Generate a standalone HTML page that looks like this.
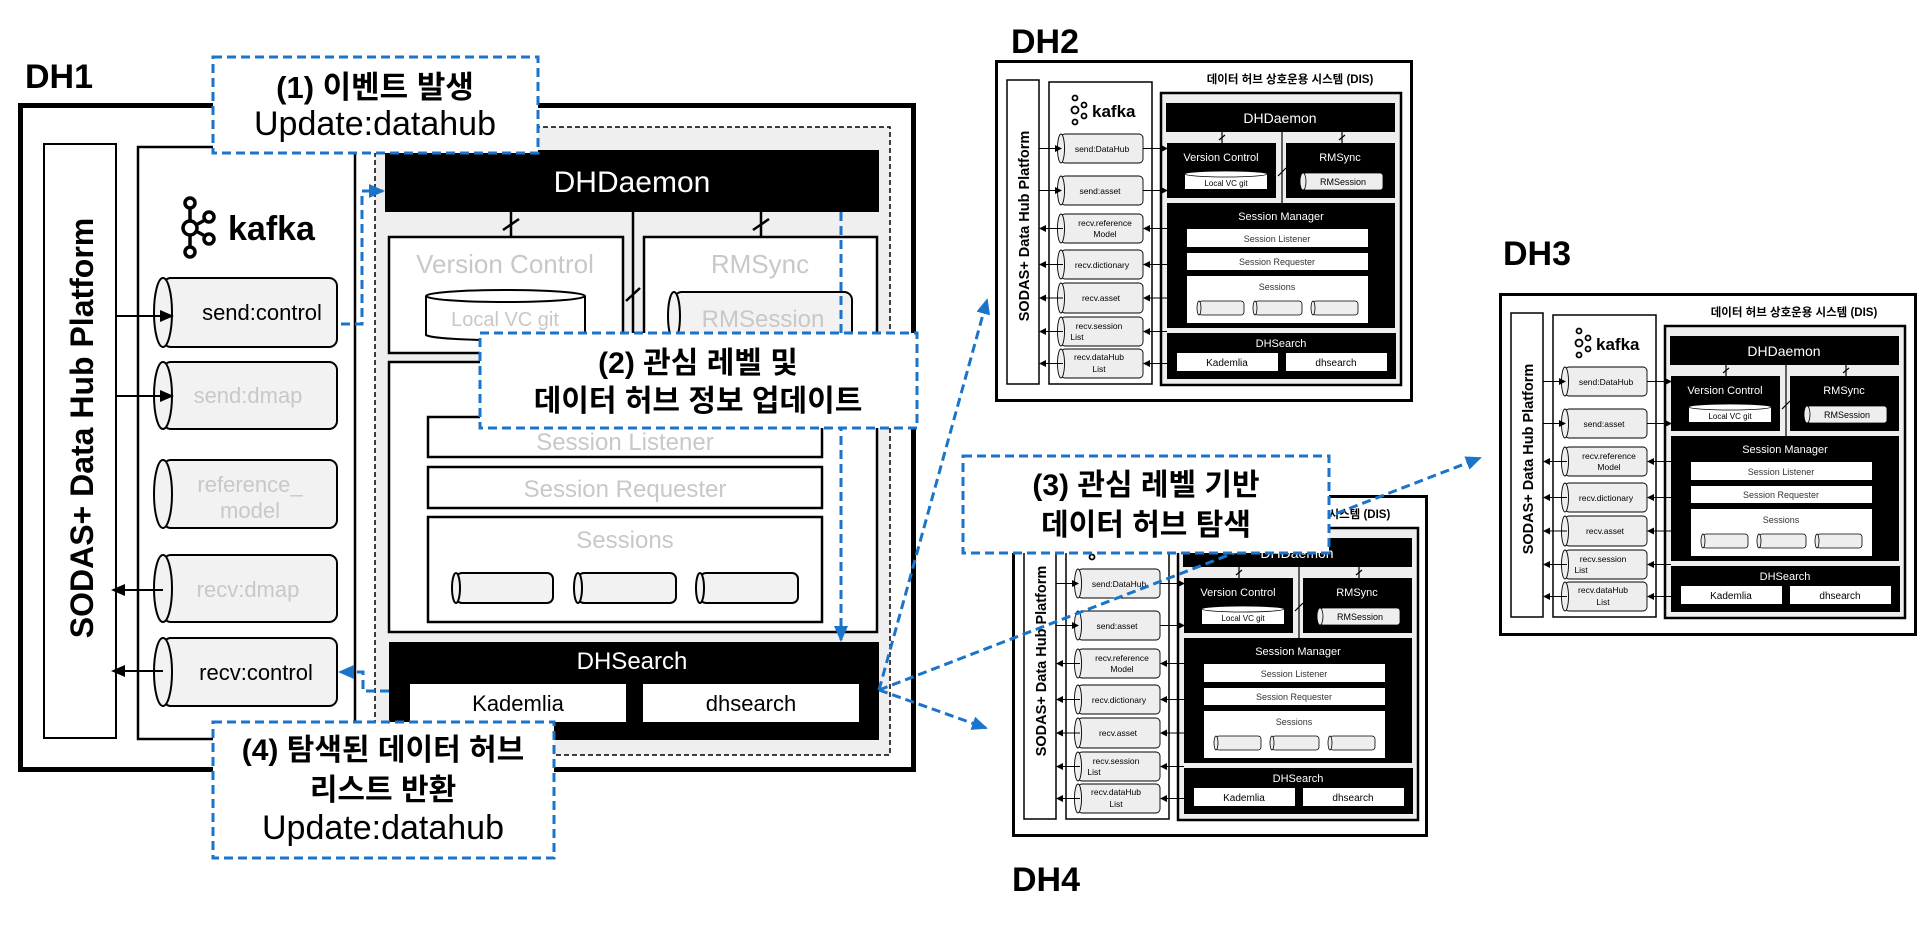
<!DOCTYPE html>
<html><head><meta charset="utf-8"><style>
html,body{margin:0;padding:0;background:#fff;}
svg{display:block;font-family:"Liberation Sans","Noto Sans CJK KR",sans-serif;}
</style></head><body>
<svg width="1918" height="927" viewBox="0 0 1918 927" xmlns="http://www.w3.org/2000/svg">
<defs>
<marker id="ak" markerWidth="7" markerHeight="7" refX="6" refY="3.5" orient="auto" markerUnits="userSpaceOnUse"><path d="M0,0 L7,3.5 L0,7z" fill="#000"/></marker>
<marker id="ab" markerWidth="14" markerHeight="12" refX="12" refY="6" orient="auto" markerUnits="userSpaceOnUse"><path d="M0,0 L14,6 L0,12z" fill="#000"/></marker>
<marker id="bl" markerWidth="16" markerHeight="14" refX="14" refY="7" orient="auto" markerUnits="userSpaceOnUse"><path d="M0,0 L16,7 L0,14z" fill="#1a74c9"/></marker>
</defs>
<rect width="1918" height="927" fill="#fff"/>

<!-- ================= DH1 ================= -->
<text x="25" y="88" font-size="34" font-weight="bold">DH1</text>
<rect x="20.5" y="105.5" width="893" height="664" fill="#fff" stroke="#000" stroke-width="5"/>
<rect x="44" y="144" width="72" height="594" fill="#fff" stroke="#000" stroke-width="2"/>
<text transform="translate(93,428) rotate(-90)" font-size="32" font-weight="bold" text-anchor="middle">SODAS+ Data Hub Platform</text>
<rect x="138" y="147" width="217" height="592" fill="#fff" stroke="#000" stroke-width="2.5"/>
<g fill="none" stroke="#000" stroke-width="3.5">
<circle cx="190" cy="203" r="5"/><circle cx="190" cy="228" r="7"/><circle cx="190" cy="252" r="5"/>
<circle cx="209" cy="217" r="5"/><circle cx="209" cy="239" r="5"/>
<path d="M190,208 V221 M190,235 V247 M196,225 L205,220 M196,231 L205,236"/>
</g>
<text x="228" y="240" font-size="34" font-weight="bold">kafka</text>
<!-- cylinders -->
<g stroke="#000" stroke-width="2" fill="#f2f2f2">
<rect x="163" y="278" width="174" height="69" rx="8"/><ellipse cx="163" cy="312.5" rx="9" ry="34.5"/>
<rect x="163" y="362" width="174" height="67" rx="8"/><ellipse cx="163" cy="395.5" rx="9" ry="33.5"/>
<rect x="163" y="460" width="174" height="68" rx="8"/><ellipse cx="163" cy="494" rx="9" ry="34"/>
<rect x="163" y="555" width="174" height="67" rx="8"/><ellipse cx="163" cy="588.5" rx="9" ry="33.5"/>
<rect x="163" y="638" width="174" height="68" rx="8"/><ellipse cx="163" cy="672" rx="9" ry="34"/>
</g>
<g font-size="22" text-anchor="middle">
<text x="262" y="320">send:control</text>
<text x="248" y="403" fill="#c8c8c8">send:dmap</text>
<text x="250" y="492" fill="#c8c8c8">reference_</text>
<text x="250" y="518" fill="#c8c8c8">model</text>
<text x="248" y="597" fill="#c8c8c8">recv:dmap</text>
<text x="256" y="680">recv:control</text>
</g>
<g stroke="#000" stroke-width="2">
<line x1="116" y1="316" x2="172" y2="316" marker-end="url(#ab)"/>
<line x1="116" y1="396" x2="172" y2="396" marker-end="url(#ab)"/>
<line x1="163" y1="590" x2="113" y2="590" marker-end="url(#ab)"/>
<line x1="163" y1="671" x2="113" y2="671" marker-end="url(#ab)"/>
</g>
<!-- DIS grey region -->
<rect x="375" y="127" width="515" height="628" fill="#efefef" stroke="#000" stroke-width="1.5" stroke-dasharray="5 3"/>
<rect x="385" y="150" width="494" height="62" fill="#000"/>
<text x="632" y="192" font-size="30" fill="#fff" text-anchor="middle">DHDaemon</text>
<g stroke="#000" stroke-width="2.5">
<line x1="511" y1="212" x2="511" y2="237"/><line x1="761" y1="212" x2="761" y2="237"/>
<line x1="633" y1="212" x2="633" y2="362"/>
<line x1="503" y1="230" x2="519" y2="219"/><line x1="753" y1="230" x2="769" y2="219"/>
<line x1="626" y1="301" x2="640" y2="288"/>
</g>
<rect x="389" y="237" width="234" height="116" fill="#fff" stroke="#000" stroke-width="2.5"/>
<text x="505" y="273" font-size="26" fill="#c8c8c8" text-anchor="middle">Version Control</text>
<path d="M426,296 V335 A80,6 0 0 0 585,335 V296" fill="#fff" stroke="#000" stroke-width="2"/>
<ellipse cx="505.5" cy="296" rx="79.5" ry="6" fill="#fff" stroke="#000" stroke-width="2"/>
<text x="505" y="326" font-size="20" fill="#c8c8c8" text-anchor="middle">Local VC git</text>
<rect x="644" y="237" width="233" height="116" fill="#fff" stroke="#000" stroke-width="2.5"/>
<text x="760" y="273" font-size="26" fill="#c8c8c8" text-anchor="middle">RMSync</text>
<rect x="674" y="292" width="178" height="48" rx="8" fill="#f2f2f2" stroke="#000" stroke-width="2"/>
<ellipse cx="674" cy="316" rx="6" ry="24" fill="#f2f2f2" stroke="#000" stroke-width="2"/>
<text x="763" y="327" font-size="24" fill="#c8c8c8" text-anchor="middle">RMSession</text>
<rect x="389" y="362" width="488" height="270" fill="#fff" stroke="#000" stroke-width="2.5"/>
<rect x="428" y="417" width="394" height="40" fill="#fff" stroke="#000" stroke-width="2.5"/>
<text x="625" y="450" font-size="24" fill="#c8c8c8" text-anchor="middle">Session Listener</text>
<rect x="428" y="467" width="394" height="41" fill="#fff" stroke="#000" stroke-width="2.5"/>
<text x="625" y="497" font-size="24" fill="#c8c8c8" text-anchor="middle">Session Requester</text>
<rect x="428" y="517" width="394" height="105" fill="#fff" stroke="#000" stroke-width="2.5"/>
<text x="625" y="548" font-size="24" fill="#c8c8c8" text-anchor="middle">Sessions</text>
<g stroke="#000" stroke-width="2" fill="#f2f2f2">
<rect x="456" y="573" width="97" height="30" rx="6"/><ellipse cx="456" cy="588" rx="4" ry="15"/>
<rect x="578" y="573" width="98" height="30" rx="6"/><ellipse cx="578" cy="588" rx="4" ry="15"/>
<rect x="700" y="573" width="98" height="30" rx="6"/><ellipse cx="700" cy="588" rx="4" ry="15"/>
</g>
<rect x="389" y="642" width="490" height="98" fill="#000"/>
<text x="632" y="669" font-size="24" fill="#fff" text-anchor="middle">DHSearch</text>
<rect x="410" y="684" width="216" height="38" fill="#fff"/>
<text x="518" y="711" font-size="22" text-anchor="middle">Kademlia</text>
<rect x="643" y="684" width="216" height="38" fill="#fff"/>
<text x="751" y="711" font-size="22" text-anchor="middle">dhsearch</text>

<!-- ================= small DH template: DH2 ================= -->
<text x="1011" y="53" font-size="34" font-weight="bold">DH2</text>
<g transform="translate(995,60)">
<rect x="1.5" y="1.5" width="415" height="339" fill="#fff" stroke="#000" stroke-width="3"/>
<text x="295" y="23" font-size="11.5" font-weight="bold" text-anchor="middle">데이터 허브 상호운용 시스템 (DIS)</text>
<rect x="12" y="20" width="32" height="304" fill="#fff" stroke="#000" stroke-width="1.5"/>
<text transform="translate(34,166) rotate(-90)" font-size="14.5" font-weight="bold" text-anchor="middle">SODAS+ Data Hub Platform</text>
<rect x="54" y="22" width="103" height="302" fill="#fff" stroke="#000" stroke-width="1.5"/>
<g fill="none" stroke="#000" stroke-width="1.8"><circle cx="80" cy="38" r="2.5"/><circle cx="80" cy="50" r="3.5"/><circle cx="80" cy="62" r="2.5"/><circle cx="89" cy="45" r="2.5"/><circle cx="89" cy="56" r="2.5"/></g>
<text x="97" y="57" font-size="17" font-weight="bold">kafka</text>
<rect x="166" y="33" width="240" height="292" fill="#eee" stroke="#000" stroke-width="2.5"/>
<rect x="171" y="43" width="229" height="29" fill="#000"/>
<text x="285" y="63" font-size="14" fill="#fff" text-anchor="middle">DHDaemon</text>
<g stroke="#000" stroke-width="1.2"><line x1="227" y1="72" x2="227" y2="83"/><line x1="347" y1="72" x2="347" y2="83"/><line x1="287" y1="72" x2="287" y2="143"/><line x1="224" y1="80" x2="230" y2="75"/><line x1="344" y1="80" x2="350" y2="75"/><line x1="283" y1="116" x2="291" y2="108"/></g>
<rect x="172" y="83" width="109" height="55" fill="#000"/>
<text x="226" y="101" font-size="11" fill="#fff" text-anchor="middle">Version Control</text>
<rect x="190" y="114" width="82" height="15" fill="#fff"/><ellipse cx="231" cy="114" rx="41" ry="3" fill="#fff" stroke="#000" stroke-width=".8"/>
<text x="231" y="126" font-size="8" text-anchor="middle">Local VC git</text>
<rect x="291" y="83" width="109" height="55" fill="#000"/>
<text x="345" y="101" font-size="11" fill="#fff" text-anchor="middle">RMSync</text>
<rect x="308" y="113" width="80" height="17" rx="3" fill="#eee" stroke="#000" stroke-width=".8"/><ellipse cx="308" cy="121.5" rx="3" ry="8.5" fill="#eee" stroke="#000" stroke-width=".8"/>
<text x="348" y="125" font-size="9" text-anchor="middle">RMSession</text>
<rect x="172" y="143" width="228" height="125" fill="#000"/>
<text x="286" y="160" font-size="11" fill="#fff" text-anchor="middle">Session Manager</text>
<rect x="192" y="169" width="181" height="18" fill="#fff"/><text x="282" y="182" font-size="9" fill="#333" text-anchor="middle">Session Listener</text>
<rect x="192" y="193" width="181" height="17" fill="#fff"/><text x="282" y="205" font-size="9" fill="#333" text-anchor="middle">Session Requester</text>
<rect x="192" y="216" width="181" height="47" fill="#fff"/><text x="282" y="230" font-size="9" fill="#333" text-anchor="middle">Sessions</text>
<g fill="#eee" stroke="#000" stroke-width=".8"><rect x="204" y="241" width="45" height="14" rx="3"/><ellipse cx="204" cy="248" rx="2" ry="7"/><rect x="260" y="241" width="47" height="14" rx="3"/><ellipse cx="260" cy="248" rx="2" ry="7"/><rect x="318" y="241" width="45" height="14" rx="3"/><ellipse cx="318" cy="248" rx="2" ry="7"/></g>
<rect x="172" y="273" width="229" height="46" fill="#000"/>
<text x="286" y="287" font-size="11" fill="#fff" text-anchor="middle">DHSearch</text>
<rect x="182" y="293" width="101" height="18" fill="#fff"/><text x="232" y="306" font-size="10" text-anchor="middle">Kademlia</text>
<rect x="291" y="293" width="101" height="18" fill="#fff"/><text x="341" y="306" font-size="10" text-anchor="middle">dhsearch</text>
<g fill="#eee" stroke="#000" stroke-width=".9">
<rect x="66" y="74" width="82" height="29" rx="4"/><ellipse cx="66" cy="88.5" rx="3.5" ry="14.5"/>
<rect x="66" y="116" width="82" height="29" rx="4"/><ellipse cx="66" cy="130.5" rx="3.5" ry="14.5"/>
<rect x="66" y="154" width="82" height="29" rx="4"/><ellipse cx="66" cy="168.5" rx="3.5" ry="14.5"/>
<rect x="66" y="190" width="82" height="29" rx="4"/><ellipse cx="66" cy="204.5" rx="3.5" ry="14.5"/>
<rect x="66" y="223" width="82" height="30" rx="4"/><ellipse cx="66" cy="238" rx="3.5" ry="15"/>
<rect x="66" y="257" width="82" height="29" rx="4"/><ellipse cx="66" cy="271.5" rx="3.5" ry="14.5"/>
<rect x="66" y="289" width="82" height="29" rx="4"/><ellipse cx="66" cy="303.5" rx="3.5" ry="14.5"/>
</g>
<g font-size="8.5" text-anchor="middle">
<text x="107" y="92">send:DataHub</text><text x="105" y="134">send:asset</text>
<text x="110" y="166">recv.reference</text><text x="110" y="177">Model</text>
<text x="107" y="208">recv.dictionary</text><text x="106" y="241">recv.asset</text>
<text x="104" y="269">recv.session</text><text x="82" y="280">List</text>
<text x="104" y="300">recv.dataHub</text><text x="104" y="312">List</text>
</g>
<g stroke="#000" stroke-width="1">
<line x1="44" y1="88.5" x2="66" y2="88.5" marker-end="url(#ak)"/><line x1="148" y1="88.5" x2="172" y2="88.5" marker-end="url(#ak)"/>
<line x1="44" y1="130.5" x2="66" y2="130.5" marker-end="url(#ak)"/><line x1="148" y1="130.5" x2="172" y2="130.5" marker-end="url(#ak)"/>
<line x1="172" y1="168.5" x2="149" y2="168.5" marker-end="url(#ak)"/><line x1="68" y1="168.5" x2="45" y2="168.5" marker-end="url(#ak)"/>
<line x1="172" y1="204.5" x2="149" y2="204.5" marker-end="url(#ak)"/><line x1="68" y1="204.5" x2="45" y2="204.5" marker-end="url(#ak)"/>
<line x1="172" y1="238" x2="149" y2="238" marker-end="url(#ak)"/><line x1="68" y1="238" x2="45" y2="238" marker-end="url(#ak)"/>
<line x1="172" y1="271.5" x2="149" y2="271.5" marker-end="url(#ak)"/><line x1="68" y1="271.5" x2="45" y2="271.5" marker-end="url(#ak)"/>
<line x1="172" y1="303.5" x2="149" y2="303.5" marker-end="url(#ak)"/><line x1="68" y1="303.5" x2="45" y2="303.5" marker-end="url(#ak)"/>
</g>
</g>

<!-- ================= DH3 ================= -->
<text x="1503" y="265" font-size="34" font-weight="bold">DH3</text>
<g transform="translate(1499,293)">
<rect x="1.5" y="1.5" width="415" height="340" fill="#fff" stroke="#000" stroke-width="3"/>
<text x="295" y="23" font-size="11.5" font-weight="bold" text-anchor="middle">데이터 허브 상호운용 시스템 (DIS)</text>
<rect x="12" y="20" width="32" height="304" fill="#fff" stroke="#000" stroke-width="1.5"/>
<text transform="translate(34,166) rotate(-90)" font-size="14.5" font-weight="bold" text-anchor="middle">SODAS+ Data Hub Platform</text>
<rect x="54" y="22" width="103" height="302" fill="#fff" stroke="#000" stroke-width="1.5"/>
<g fill="none" stroke="#000" stroke-width="1.8"><circle cx="80" cy="38" r="2.5"/><circle cx="80" cy="50" r="3.5"/><circle cx="80" cy="62" r="2.5"/><circle cx="89" cy="45" r="2.5"/><circle cx="89" cy="56" r="2.5"/></g>
<text x="97" y="57" font-size="17" font-weight="bold">kafka</text>
<rect x="166" y="33" width="240" height="292" fill="#eee" stroke="#000" stroke-width="2.5"/>
<rect x="171" y="43" width="229" height="29" fill="#000"/>
<text x="285" y="63" font-size="14" fill="#fff" text-anchor="middle">DHDaemon</text>
<g stroke="#000" stroke-width="1.2"><line x1="227" y1="72" x2="227" y2="83"/><line x1="347" y1="72" x2="347" y2="83"/><line x1="287" y1="72" x2="287" y2="143"/><line x1="224" y1="80" x2="230" y2="75"/><line x1="344" y1="80" x2="350" y2="75"/><line x1="283" y1="116" x2="291" y2="108"/></g>
<rect x="172" y="83" width="109" height="55" fill="#000"/>
<text x="226" y="101" font-size="11" fill="#fff" text-anchor="middle">Version Control</text>
<rect x="190" y="114" width="82" height="15" fill="#fff"/><ellipse cx="231" cy="114" rx="41" ry="3" fill="#fff" stroke="#000" stroke-width=".8"/>
<text x="231" y="126" font-size="8" text-anchor="middle">Local VC git</text>
<rect x="291" y="83" width="109" height="55" fill="#000"/>
<text x="345" y="101" font-size="11" fill="#fff" text-anchor="middle">RMSync</text>
<rect x="308" y="113" width="80" height="17" rx="3" fill="#eee" stroke="#000" stroke-width=".8"/><ellipse cx="308" cy="121.5" rx="3" ry="8.5" fill="#eee" stroke="#000" stroke-width=".8"/>
<text x="348" y="125" font-size="9" text-anchor="middle">RMSession</text>
<rect x="172" y="143" width="228" height="125" fill="#000"/>
<text x="286" y="160" font-size="11" fill="#fff" text-anchor="middle">Session Manager</text>
<rect x="192" y="169" width="181" height="18" fill="#fff"/><text x="282" y="182" font-size="9" fill="#333" text-anchor="middle">Session Listener</text>
<rect x="192" y="193" width="181" height="17" fill="#fff"/><text x="282" y="205" font-size="9" fill="#333" text-anchor="middle">Session Requester</text>
<rect x="192" y="216" width="181" height="47" fill="#fff"/><text x="282" y="230" font-size="9" fill="#333" text-anchor="middle">Sessions</text>
<g fill="#eee" stroke="#000" stroke-width=".8"><rect x="204" y="241" width="45" height="14" rx="3"/><ellipse cx="204" cy="248" rx="2" ry="7"/><rect x="260" y="241" width="47" height="14" rx="3"/><ellipse cx="260" cy="248" rx="2" ry="7"/><rect x="318" y="241" width="45" height="14" rx="3"/><ellipse cx="318" cy="248" rx="2" ry="7"/></g>
<rect x="172" y="273" width="229" height="46" fill="#000"/>
<text x="286" y="287" font-size="11" fill="#fff" text-anchor="middle">DHSearch</text>
<rect x="182" y="293" width="101" height="18" fill="#fff"/><text x="232" y="306" font-size="10" text-anchor="middle">Kademlia</text>
<rect x="291" y="293" width="101" height="18" fill="#fff"/><text x="341" y="306" font-size="10" text-anchor="middle">dhsearch</text>
<g fill="#eee" stroke="#000" stroke-width=".9">
<rect x="66" y="74" width="82" height="29" rx="4"/><ellipse cx="66" cy="88.5" rx="3.5" ry="14.5"/>
<rect x="66" y="116" width="82" height="29" rx="4"/><ellipse cx="66" cy="130.5" rx="3.5" ry="14.5"/>
<rect x="66" y="154" width="82" height="29" rx="4"/><ellipse cx="66" cy="168.5" rx="3.5" ry="14.5"/>
<rect x="66" y="190" width="82" height="29" rx="4"/><ellipse cx="66" cy="204.5" rx="3.5" ry="14.5"/>
<rect x="66" y="223" width="82" height="30" rx="4"/><ellipse cx="66" cy="238" rx="3.5" ry="15"/>
<rect x="66" y="257" width="82" height="29" rx="4"/><ellipse cx="66" cy="271.5" rx="3.5" ry="14.5"/>
<rect x="66" y="289" width="82" height="29" rx="4"/><ellipse cx="66" cy="303.5" rx="3.5" ry="14.5"/>
</g>
<g font-size="8.5" text-anchor="middle">
<text x="107" y="92">send:DataHub</text><text x="105" y="134">send:asset</text>
<text x="110" y="166">recv.reference</text><text x="110" y="177">Model</text>
<text x="107" y="208">recv.dictionary</text><text x="106" y="241">recv.asset</text>
<text x="104" y="269">recv.session</text><text x="82" y="280">List</text>
<text x="104" y="300">recv.dataHub</text><text x="104" y="312">List</text>
</g>
<g stroke="#000" stroke-width="1">
<line x1="44" y1="88.5" x2="66" y2="88.5" marker-end="url(#ak)"/><line x1="148" y1="88.5" x2="172" y2="88.5" marker-end="url(#ak)"/>
<line x1="44" y1="130.5" x2="66" y2="130.5" marker-end="url(#ak)"/><line x1="148" y1="130.5" x2="172" y2="130.5" marker-end="url(#ak)"/>
<line x1="172" y1="168.5" x2="149" y2="168.5" marker-end="url(#ak)"/><line x1="68" y1="168.5" x2="45" y2="168.5" marker-end="url(#ak)"/>
<line x1="172" y1="204.5" x2="149" y2="204.5" marker-end="url(#ak)"/><line x1="68" y1="204.5" x2="45" y2="204.5" marker-end="url(#ak)"/>
<line x1="172" y1="238" x2="149" y2="238" marker-end="url(#ak)"/><line x1="68" y1="238" x2="45" y2="238" marker-end="url(#ak)"/>
<line x1="172" y1="271.5" x2="149" y2="271.5" marker-end="url(#ak)"/><line x1="68" y1="271.5" x2="45" y2="271.5" marker-end="url(#ak)"/>
<line x1="172" y1="303.5" x2="149" y2="303.5" marker-end="url(#ak)"/><line x1="68" y1="303.5" x2="45" y2="303.5" marker-end="url(#ak)"/>
</g>
</g>

<!-- ================= DH4 ================= -->
<text x="1012" y="891" font-size="34" font-weight="bold">DH4</text>
<g transform="translate(1012,495)">
<rect x="1.5" y="1.5" width="413" height="339" fill="#fff" stroke="#000" stroke-width="3"/>
<text x="295" y="23" font-size="11.5" font-weight="bold" text-anchor="middle">데이터 허브 상호운용 시스템 (DIS)</text>
<rect x="12" y="20" width="32" height="304" fill="#fff" stroke="#000" stroke-width="1.5"/>
<text transform="translate(34,166) rotate(-90)" font-size="14.5" font-weight="bold" text-anchor="middle">SODAS+ Data Hub Platform</text>
<rect x="54" y="22" width="103" height="302" fill="#fff" stroke="#000" stroke-width="1.5"/>
<g fill="none" stroke="#000" stroke-width="1.8"><circle cx="80" cy="38" r="2.5"/><circle cx="80" cy="50" r="3.5"/><circle cx="80" cy="62" r="2.5"/><circle cx="89" cy="45" r="2.5"/><circle cx="89" cy="56" r="2.5"/></g>
<text x="97" y="57" font-size="17" font-weight="bold">kafka</text>
<rect x="166" y="33" width="240" height="292" fill="#eee" stroke="#000" stroke-width="2.5"/>
<rect x="171" y="43" width="229" height="29" fill="#000"/>
<text x="285" y="63" font-size="14" fill="#fff" text-anchor="middle">DHDaemon</text>
<g stroke="#000" stroke-width="1.2"><line x1="227" y1="72" x2="227" y2="83"/><line x1="347" y1="72" x2="347" y2="83"/><line x1="287" y1="72" x2="287" y2="143"/><line x1="224" y1="80" x2="230" y2="75"/><line x1="344" y1="80" x2="350" y2="75"/><line x1="283" y1="116" x2="291" y2="108"/></g>
<rect x="172" y="83" width="109" height="55" fill="#000"/>
<text x="226" y="101" font-size="11" fill="#fff" text-anchor="middle">Version Control</text>
<rect x="190" y="114" width="82" height="15" fill="#fff"/><ellipse cx="231" cy="114" rx="41" ry="3" fill="#fff" stroke="#000" stroke-width=".8"/>
<text x="231" y="126" font-size="8" text-anchor="middle">Local VC git</text>
<rect x="291" y="83" width="109" height="55" fill="#000"/>
<text x="345" y="101" font-size="11" fill="#fff" text-anchor="middle">RMSync</text>
<rect x="308" y="113" width="80" height="17" rx="3" fill="#eee" stroke="#000" stroke-width=".8"/><ellipse cx="308" cy="121.5" rx="3" ry="8.5" fill="#eee" stroke="#000" stroke-width=".8"/>
<text x="348" y="125" font-size="9" text-anchor="middle">RMSession</text>
<rect x="172" y="143" width="228" height="125" fill="#000"/>
<text x="286" y="160" font-size="11" fill="#fff" text-anchor="middle">Session Manager</text>
<rect x="192" y="169" width="181" height="18" fill="#fff"/><text x="282" y="182" font-size="9" fill="#333" text-anchor="middle">Session Listener</text>
<rect x="192" y="193" width="181" height="17" fill="#fff"/><text x="282" y="205" font-size="9" fill="#333" text-anchor="middle">Session Requester</text>
<rect x="192" y="216" width="181" height="47" fill="#fff"/><text x="282" y="230" font-size="9" fill="#333" text-anchor="middle">Sessions</text>
<g fill="#eee" stroke="#000" stroke-width=".8"><rect x="204" y="241" width="45" height="14" rx="3"/><ellipse cx="204" cy="248" rx="2" ry="7"/><rect x="260" y="241" width="47" height="14" rx="3"/><ellipse cx="260" cy="248" rx="2" ry="7"/><rect x="318" y="241" width="45" height="14" rx="3"/><ellipse cx="318" cy="248" rx="2" ry="7"/></g>
<rect x="172" y="273" width="229" height="46" fill="#000"/>
<text x="286" y="287" font-size="11" fill="#fff" text-anchor="middle">DHSearch</text>
<rect x="182" y="293" width="101" height="18" fill="#fff"/><text x="232" y="306" font-size="10" text-anchor="middle">Kademlia</text>
<rect x="291" y="293" width="101" height="18" fill="#fff"/><text x="341" y="306" font-size="10" text-anchor="middle">dhsearch</text>
<g fill="#eee" stroke="#000" stroke-width=".9">
<rect x="66" y="74" width="82" height="29" rx="4"/><ellipse cx="66" cy="88.5" rx="3.5" ry="14.5"/>
<rect x="66" y="116" width="82" height="29" rx="4"/><ellipse cx="66" cy="130.5" rx="3.5" ry="14.5"/>
<rect x="66" y="154" width="82" height="29" rx="4"/><ellipse cx="66" cy="168.5" rx="3.5" ry="14.5"/>
<rect x="66" y="190" width="82" height="29" rx="4"/><ellipse cx="66" cy="204.5" rx="3.5" ry="14.5"/>
<rect x="66" y="223" width="82" height="30" rx="4"/><ellipse cx="66" cy="238" rx="3.5" ry="15"/>
<rect x="66" y="257" width="82" height="29" rx="4"/><ellipse cx="66" cy="271.5" rx="3.5" ry="14.5"/>
<rect x="66" y="289" width="82" height="29" rx="4"/><ellipse cx="66" cy="303.5" rx="3.5" ry="14.5"/>
</g>
<g font-size="8.5" text-anchor="middle">
<text x="107" y="92">send:DataHub</text><text x="105" y="134">send:asset</text>
<text x="110" y="166">recv.reference</text><text x="110" y="177">Model</text>
<text x="107" y="208">recv.dictionary</text><text x="106" y="241">recv.asset</text>
<text x="104" y="269">recv.session</text><text x="82" y="280">List</text>
<text x="104" y="300">recv.dataHub</text><text x="104" y="312">List</text>
</g>
<g stroke="#000" stroke-width="1">
<line x1="44" y1="88.5" x2="66" y2="88.5" marker-end="url(#ak)"/><line x1="148" y1="88.5" x2="172" y2="88.5" marker-end="url(#ak)"/>
<line x1="44" y1="130.5" x2="66" y2="130.5" marker-end="url(#ak)"/><line x1="148" y1="130.5" x2="172" y2="130.5" marker-end="url(#ak)"/>
<line x1="172" y1="168.5" x2="149" y2="168.5" marker-end="url(#ak)"/><line x1="68" y1="168.5" x2="45" y2="168.5" marker-end="url(#ak)"/>
<line x1="172" y1="204.5" x2="149" y2="204.5" marker-end="url(#ak)"/><line x1="68" y1="204.5" x2="45" y2="204.5" marker-end="url(#ak)"/>
<line x1="172" y1="238" x2="149" y2="238" marker-end="url(#ak)"/><line x1="68" y1="238" x2="45" y2="238" marker-end="url(#ak)"/>
<line x1="172" y1="271.5" x2="149" y2="271.5" marker-end="url(#ak)"/><line x1="68" y1="271.5" x2="45" y2="271.5" marker-end="url(#ak)"/>
<line x1="172" y1="303.5" x2="149" y2="303.5" marker-end="url(#ak)"/><line x1="68" y1="303.5" x2="45" y2="303.5" marker-end="url(#ak)"/>
</g>
</g>

<!-- ================= blue connectors ================= -->
<g fill="none" stroke="#1a74c9" stroke-width="3" stroke-dasharray="9 5">
<path d="M341,324 H362 V191 H383" marker-end="url(#bl)"/>
<path d="M841,212 V640" marker-end="url(#bl)"/>
<path d="M389,691 H363 V672 H340" marker-end="url(#bl)"/>
<path d="M879,690 L987,300" marker-end="url(#bl)"/>
<path d="M879,690 L1480,458" marker-end="url(#bl)"/>
<path d="M879,690 L986,728" marker-end="url(#bl)"/>
</g>

<!-- ================= labels ================= -->
<g fill="#fff" stroke="#1a74c9" stroke-width="3" stroke-dasharray="9 5">
<rect x="213" y="57" width="325" height="96"/>
<rect x="480" y="333" width="437" height="95"/>
<rect x="963" y="456" width="366" height="97"/>
<rect x="213" y="722" width="341" height="136"/>
</g>
<g text-anchor="middle" fill="#000">
<text x="375" y="98" font-size="31" font-weight="bold">(1) 이벤트 발생</text>
<text x="375" y="135" font-size="34">Update:datahub</text>
<text x="698" y="373" font-size="30" font-weight="bold">(2) 관심 레벨 및</text>
<text x="698" y="411" font-size="30" font-weight="bold">데이터 허브 정보 업데이트</text>
<text x="1146" y="495" font-size="30" font-weight="bold">(3) 관심 레벨 기반</text>
<text x="1146" y="535" font-size="30" font-weight="bold">데이터 허브 탐색</text>
<text x="383" y="760" font-size="30" font-weight="bold">(4) 탐색된 데이터 허브</text>
<text x="383" y="800" font-size="30" font-weight="bold">리스트 반환</text>
<text x="383" y="839" font-size="34">Update:datahub</text>
</g>
</svg>
</body></html>
